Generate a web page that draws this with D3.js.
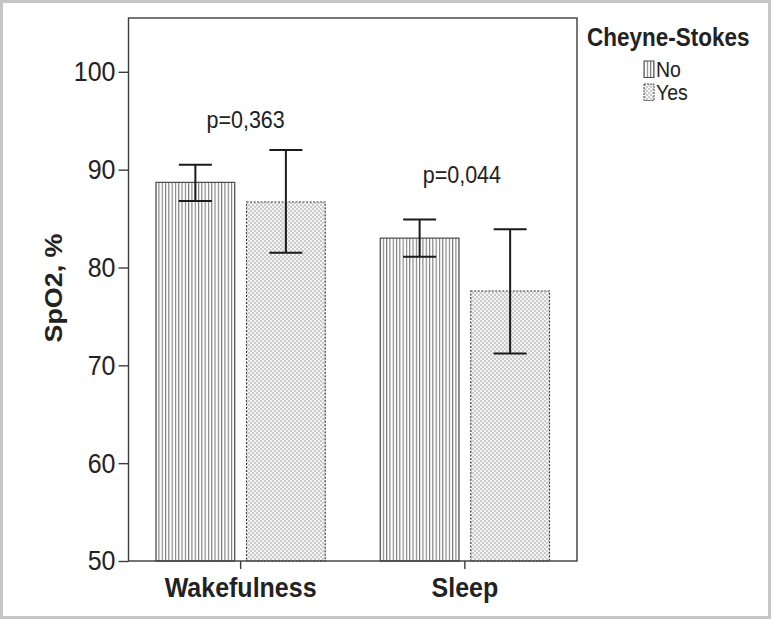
<!DOCTYPE html>
<html><head><meta charset="utf-8">
<script src="https://cdn.jsdelivr.net/npm/d3@7"></script>
<style>html,body{margin:0;padding:0;background:#fff;}svg{display:block;font-family:"Liberation Sans",Arial,sans-serif;}</style>
</head><body>
<script>
const categories = ["Wakefulness", "Sleep"];
const series = ["No", "Yes"];
const means = { No: [88.7, 83.0], Yes: [86.7, 77.6] };
const errLow = { No: [86.8, 81.1], Yes: [81.5, 71.2] };
const errHigh = { No: [90.5, 84.9], Yes: [92.0, 83.9] };
const pLabels = ["p=0,363", "p=0,044"];
const pPositions = [94.3, 88.6]; // value level of label baseline
const yTicks = [50, 60, 70, 80, 90, 100];
const legendTitle = "Cheyne-Stokes";
const yTitle = "SpO2, %";

(function () {
const W = 771, H = 619;
const pLeft = 128.5, pRight = 577, pTop = 18, pBottom = 561;
const SY = 1.12; // vertical stretch of text seen in the reference

const svg = d3.select("body").append("svg").attr("width", W).attr("height", H);
const defs = svg.append("defs");
const pNo = defs.append("pattern").attr("id", "pNo").attr("patternUnits", "userSpaceOnUse")
  .attr("width", 3.3).attr("height", 10);
pNo.append("rect").attr("width", 3.3).attr("height", 10).attr("fill", "#fff");
pNo.append("rect").attr("x", 0).attr("width", 1.1).attr("height", 10).attr("fill", "#7a7a7a");
const pYes = defs.append("pattern").attr("id", "pYes").attr("patternUnits", "userSpaceOnUse")
  .attr("width", 4).attr("height", 4);
pYes.append("rect").attr("width", 4).attr("height", 4).attr("fill", "#f4f4f4");
pYes.append("rect").attr("width", 2).attr("height", 2).attr("fill", "#cbcbcb");
pYes.append("rect").attr("x", 2).attr("y", 2).attr("width", 2).attr("height", 2).attr("fill", "#cbcbcb");

// outer border
svg.append("rect").attr("x", 1.5).attr("y", 1.5).attr("width", W - 3).attr("height", H - 3)
  .attr("fill", "none").attr("stroke", "#c6c6c6").attr("stroke-width", 3);

const y = d3.scaleLinear().domain([50, 105.5]).range([pBottom, pTop]);
const x0 = d3.scaleBand().domain(categories).range([pLeft, pRight]).padding(0);
const x1 = d3.scaleBand().domain(series).range([27.5, x0.bandwidth() - 27.5]).paddingInner(0.13).paddingOuter(0);

function stretchedText(parent, x, yy, str) {
  return parent.append("text").attr("transform", `translate(${x},${yy}) scale(1,${SY})`).text(str);
}

// bars
const g = svg.append("g");
categories.forEach((c, ci) => {
  series.forEach(s => {
    const bx = x0(c) + x1(s);
    g.append("rect").attr("x", bx).attr("y", y(means[s][ci]))
      .attr("width", x1.bandwidth()).attr("height", y(50) - y(means[s][ci]))
      .attr("fill", s === "No" ? "url(#pNo)" : "url(#pYes)")
      .attr("stroke", s === "No" ? "#4a4a4a" : "#3a3a3a")
      .attr("stroke-width", s === "No" ? 1.2 : 1.1)
      .attr("stroke-dasharray", s === "No" ? null : "2,1.5");
  });
});

// error bars
categories.forEach((c, ci) => {
  series.forEach(s => {
    const cx = x0(c) + x1(s) + x1.bandwidth() / 2;
    const hw = 16.5;
    const eg = svg.append("g").attr("stroke", "#1a1a1a").attr("stroke-width", 2);
    eg.append("line").attr("x1", cx).attr("x2", cx).attr("y1", y(errHigh[s][ci])).attr("y2", y(errLow[s][ci]));
    eg.append("line").attr("x1", cx - hw).attr("x2", cx + hw).attr("y1", y(errHigh[s][ci])).attr("y2", y(errHigh[s][ci]));
    eg.append("line").attr("x1", cx - hw).attr("x2", cx + hw).attr("y1", y(errLow[s][ci])).attr("y2", y(errLow[s][ci]));
  });
});

// frame
svg.append("rect").attr("x", pLeft).attr("y", pTop).attr("width", pRight - pLeft).attr("height", pBottom - pTop)
  .attr("fill", "none").attr("stroke", "#3c3c3c").attr("stroke-width", 1.4);

// y axis
const yAxis = svg.append("g").attr("transform", `translate(${pLeft},0)`)
  .call(d3.axisLeft(y).tickValues(yTicks).tickSize(10).tickPadding(3));
yAxis.select(".domain").remove();
yAxis.selectAll(".tick line").attr("stroke", "#3c3c3c").attr("stroke-width", 1.4);
yAxis.selectAll(".tick text").attr("font-size", 25).attr("fill", "#222")
  .attr("font-family", "'Liberation Sans', Arial, sans-serif")
  .attr("transform", `scale(1,${SY})`);

// x axis
const xAxis = svg.append("g").attr("transform", `translate(0,${pBottom})`)
  .call(d3.axisBottom(x0).tickSize(8).tickPadding(6));
xAxis.select(".domain").remove();
xAxis.selectAll(".tick line").attr("stroke", "#3c3c3c").attr("stroke-width", 1.4);
xAxis.selectAll(".tick text").attr("font-size", 25).attr("font-weight", "bold").attr("fill", "#222")
  .attr("font-family", "'Liberation Sans', Arial, sans-serif")
  .attr("transform", `scale(1,${SY})`);

// y title (stretched along its length, which is vertical on the page)
svg.append("text").attr("transform", `translate(62,288) rotate(-90) scale(${SY},1)`)
  .attr("text-anchor", "middle").attr("font-size", 24).attr("font-weight", "bold").attr("fill", "#222")
  .text(yTitle);

// p-values
categories.forEach((c, ci) => {
  stretchedText(svg, x0(c) + x0.bandwidth() / 2 + (ci === 0 ? 5 : -3), y(pPositions[ci]), pLabels[ci])
    .attr("text-anchor", "middle").attr("font-size", 21.5).attr("fill", "#222");
});

// legend
stretchedText(svg, 587, 46, legendTitle).attr("font-size", 22.5).attr("font-weight", "bold").attr("fill", "#222");
series.forEach((s, i) => {
  const ly = 61 + i * 23;
  svg.append("rect").attr("x", 644).attr("y", ly).attr("width", 10).attr("height", 16.5)
    .attr("fill", s === "No" ? "url(#pNo)" : "url(#pYes)")
    .attr("stroke", "#4a4a4a").attr("stroke-width", 1)
    .attr("stroke-dasharray", s === "No" ? null : "2,1");
  stretchedText(svg, 656, ly + 15.5, s).attr("font-size", 19.5).attr("fill", "#222");
});
})();
</script>
</body></html>
